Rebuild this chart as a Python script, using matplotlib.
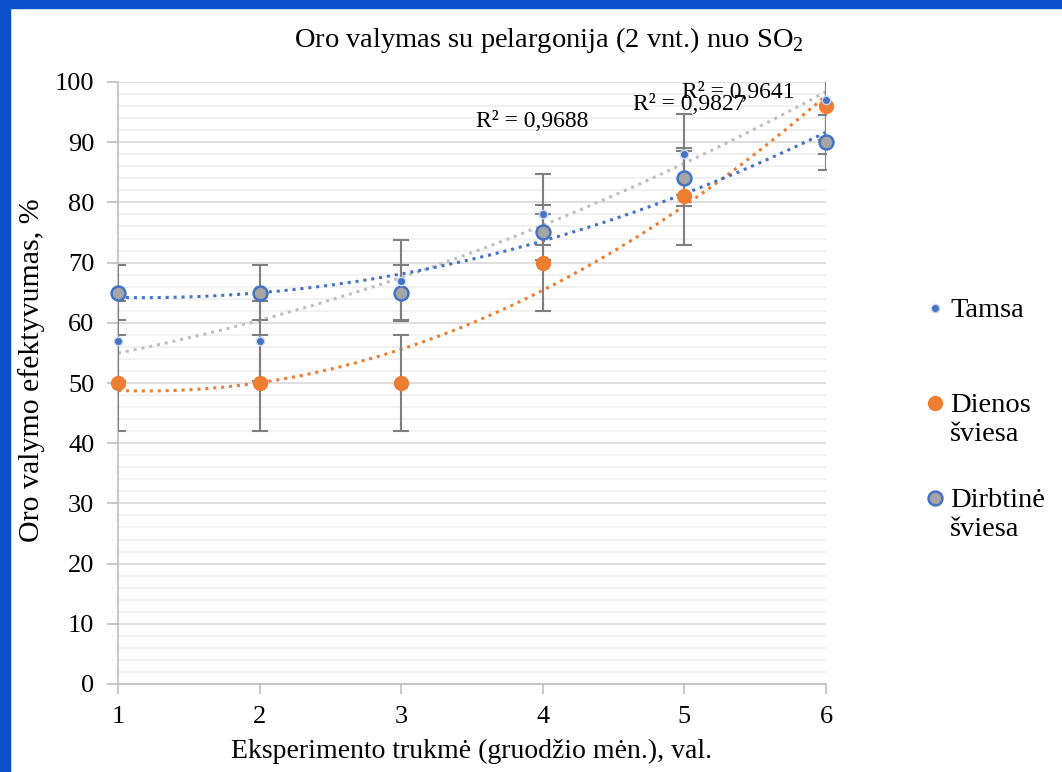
import numpy as np
import matplotlib
matplotlib.use("Agg")
import matplotlib.pyplot as plt
from matplotlib.patches import Rectangle
from matplotlib.lines import Line2D

plt.rcParams['font.family'] = ['Liberation Serif', 'DejaVu Serif']
plt.rcParams['mathtext.fontset'] = 'custom'
plt.rcParams['mathtext.rm'] = 'Liberation Serif'

# data
x = np.array([1, 2, 3, 4, 5, 6])
tamsa = np.array([57, 57, 67, 78, 88, 97])
dienos = np.array([50, 50, 50, 70, 81, 96])
dirbtine = np.array([65, 65, 65, 75, 84, 90])

tamsa_err_lo = np.array([6.7, 6.7, 6.7, 5.0, 6.7, 6.7])
tamsa_err_hi = np.array([6.7, 6.7, 6.7, 6.7, 6.7, 6.7])
dienos_err = np.array([8, 8, 8, 8, 8, 8])
dirbtine_err = np.array([4.6, 4.6, 4.6, 4.6, 4.6, 4.6])

labels = ['Tamsa', 'Dienos\nšviesa', 'Dirbtinė\nšviesa']
r2_labels = ["R² = 0,9688", "R² = 0,9827", "R² = 0,9641"]
r2_pos = [(3.53, 93.5), (4.64, 96.2), (4.98, 98.3)]

blue = '#4472C4'
orange = '#ED7D31'
grey = '#A5A5A5'
errc = '#7F7F7F'

W, H = 1062, 772
fig = plt.figure(figsize=(W/100, H/100), dpi=100)
ax = fig.add_axes([118/W, 1-684/H, (826-118)/W, (684-82)/H])

# blue frame of the screenshot
fig.patches.append(Rectangle((0, 0), 10/W, 1, transform=fig.transFigure, color='#0B4FCB', zorder=10))
fig.patches.append(Rectangle((0, 1-8/H), 1, 8/H, transform=fig.transFigure, color='#0B4FCB', zorder=10))

# trendlines (poly 2), colors as in the original
xs = np.linspace(1, 6, 200)
dotted = (0, (1, 1.6))
for data, col in [(dienos, orange), (tamsa, '#BFBFBF'), (dirbtine, blue)]:
    p = np.polyfit(x, data, 2)
    ax.plot(xs, np.polyval(p, xs), color=col, lw=2.2, ls=dotted, zorder=2, clip_on=False)

ax.errorbar(x, tamsa, yerr=[tamsa_err_lo, tamsa_err_hi], fmt='none', ecolor=errc, elinewidth=1.5, capsize=6, capthick=1.5, zorder=3)
ax.errorbar(x, dienos, yerr=dienos_err, fmt='none', ecolor=errc, elinewidth=1.5, capsize=6, capthick=1.5, zorder=3)
ax.errorbar(x, dirbtine, yerr=dirbtine_err, fmt='none', ecolor=errc, elinewidth=1.5, capsize=6, capthick=1.5, zorder=3)

styles = [dict(ms=6, color=blue, mec='#C9D6EE', mew=1),
          dict(ms=10, color=orange, mec=orange, mew=1),
          dict(ms=10, color=grey, mec=blue, mew=1.8)]
for data, st, z in zip([tamsa, dienos, dirbtine], styles, [5, 4, 4]):
    ax.plot(x, data, 'o', ls='none', zorder=z, clip_on=False, **st)

for lab, (tx, ty) in zip(r2_labels, r2_pos):
    ax.text(tx, ty, lab, fontsize=17, ha='left', va='center', zorder=6)

ax.set_xlim(1, 6)
ax.set_ylim(0, 100)
ax.set_xticks(x)
ax.set_yticks(np.arange(0, 101, 10))
ax.set_yticks(np.arange(0, 101, 2), minor=True)
ax.grid(axis='y', which='major', color='#D9D9D9', lw=1.2)
ax.grid(axis='y', which='minor', color='#EFEFEF', lw=1.2)
ax.set_axisbelow(True)
for s in ['top', 'right']:
    ax.spines[s].set_visible(False)
for s in ['left', 'bottom']:
    ax.spines[s].set_color('#BFBFBF')
    ax.spines[s].set_linewidth(1.2)
ax.tick_params(axis='y', which='major', length=8, color='#BFBFBF', width=1.2, labelsize=19, pad=9)
ax.tick_params(axis='y', which='minor', length=0)
ax.tick_params(axis='x', length=7, color='#BFBFBF', width=1.2, labelsize=19, pad=9)

ax.set_xlabel('Eksperimento trukmė (gruodžio mėn.), val.', fontsize=20, labelpad=8)
ax.set_ylabel('Oro valymo efektyvumas, %', fontsize=21.5)
ax.yaxis.set_label_coords(-0.103, 0.522)
fig.text(549/W, 1-40/H, 'Oro valymas su pelargonija (2 vnt.) nuo SO$_2$', fontsize=20.5, ha='center', va='center')

# legend, entries evenly spaced like the spreadsheet one
leg_y = [308, 403, 498]
for lab, st, ly in zip(labels, styles, leg_y):
    fig.add_artist(Line2D([935/W], [1-ly/H], marker='o', ls='none', transform=fig.transFigure, **st))
    fig.text(950/W, 1-(ly-10)/H, lab, fontsize=20.5, ha='left', va='top', linespacing=1.2)

fig.savefig('out.png', dpi=100, facecolor='w')
